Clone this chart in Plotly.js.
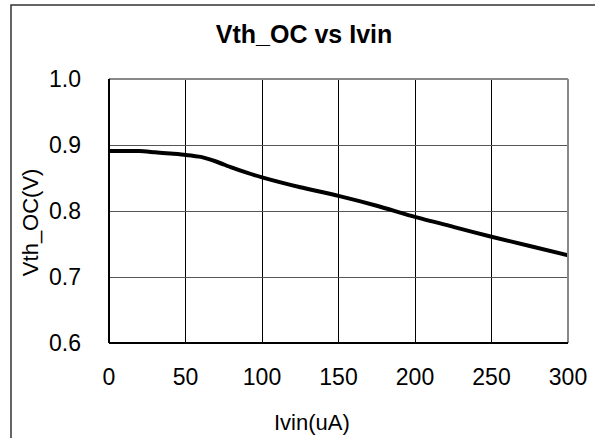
<!DOCTYPE html>
<html>
<head>
<meta charset="utf-8">
<script src="https://cdn.plot.ly/plotly-3.0.1.min.js"></script>
<style>html,body{margin:0;padding:0;background:#fff;}#chart{width:595px;height:438px;}</style>
</head>
<body>
<div id="chart"></div>
<script>
const ivin = [0, 10, 20, 30, 40, 50, 60, 70, 80, 90, 100, 125, 150, 175, 200, 225, 250, 275, 300];
const vthOC = [0.891, 0.891, 0.891, 0.889, 0.887, 0.885, 0.882, 0.875, 0.866, 0.858, 0.851, 0.836, 0.823, 0.808, 0.791, 0.776, 0.761, 0.747, 0.733];
const xTicks = [0, 50, 100, 150, 200, 250, 300];
const yTicks = [0.6, 0.7, 0.8, 0.9, 1.0];
const yTickText = ['0.6', '0.7', '0.8', '0.9', '1.0'];
const titleText = 'Vth_OC vs Ivin';
const xTitle = 'Ivin(uA)';
const yTitle = 'Vth_OC(V)';

const FONT = 'Liberation Sans, Arial, sans-serif';

const trace = {
  x: ivin, y: vthOC, type: 'scatter', mode: 'lines',
  line: {color: '#000000', width: 4, shape: 'spline', smoothing: 0.6},
  hoverinfo: 'skip', showlegend: false
};

const layout = {
  width: 595, height: 438,
  margin: {l: 109, r: 27, t: 79, b: 95, pad: 0},
  paper_bgcolor: '#ffffff', plot_bgcolor: '#ffffff',
  font: {family: FONT, color: '#000000', size: 23},
  title: {text: '<b>' + titleText + '</b>', font: {family: FONT, size: 25, color: '#000'},
          xref: 'container', yref: 'container', x: 0.511, y: 0.922, xanchor: 'center', yanchor: 'middle'},
  xaxis: {
    range: [0, 300], tickvals: xTicks, ticktext: xTicks.map(String),
    showgrid: true, gridcolor: '#000000', gridwidth: 1,
    zeroline: false, showline: false, ticks: '',
    ticklabelstandoff: 18,
    tickfont: {family: FONT, size: 23, color: '#000'}, fixedrange: true
  },
  yaxis: {
    range: [0.6, 1.0], tickvals: yTicks, ticktext: yTickText,
    showgrid: true, gridcolor: '#555555', gridwidth: 1,
    zeroline: false, showline: false, ticks: '',
    ticklabelstandoff: 27,
    tickfont: {family: FONT, size: 23, color: '#000'}, fixedrange: true
  },
  annotations: [
    {text: xTitle, xref: 'paper', yref: 'paper', x: 0.442, y: -0.303, xanchor: 'center', yanchor: 'middle',
     showarrow: false, font: {family: FONT, size: 22, color: '#000'}},
    {text: yTitle, xref: 'paper', yref: 'paper', x: -0.172, y: 0.458, xanchor: 'center', yanchor: 'middle',
     textangle: -90, showarrow: false, font: {family: FONT, size: 22, color: '#000'}}
  ],
  shapes: [
    {type: 'line', xref: 'paper', yref: 'paper', x0: 0, x1: 1, y0: 1, y1: 1, line: {color: '#888888', width: 2}},
    {type: 'line', xref: 'paper', yref: 'paper', x0: 1, x1: 1, y0: 0, y1: 1, line: {color: '#888888', width: 2}},
    {type: 'line', xref: 'paper', yref: 'paper', x0: 0, x1: 1, y0: 0, y1: 0, line: {color: '#000000', width: 2}},
    {type: 'line', xref: 'paper', yref: 'paper', x0: 0, x1: 0, y0: 0, y1: 1, line: {color: '#000000', width: 2}},
    {type: 'path', xref: 'paper', yref: 'paper', path: 'M -0.2135 -0.40 L -0.2135 1.2803 L 1.07 1.2803',
     line: {color: '#333333', width: 1.5}}
  ]
};

Plotly.newPlot('chart', [trace], layout, {staticPlot: true, displayModeBar: false});
</script>
</body>
</html>
